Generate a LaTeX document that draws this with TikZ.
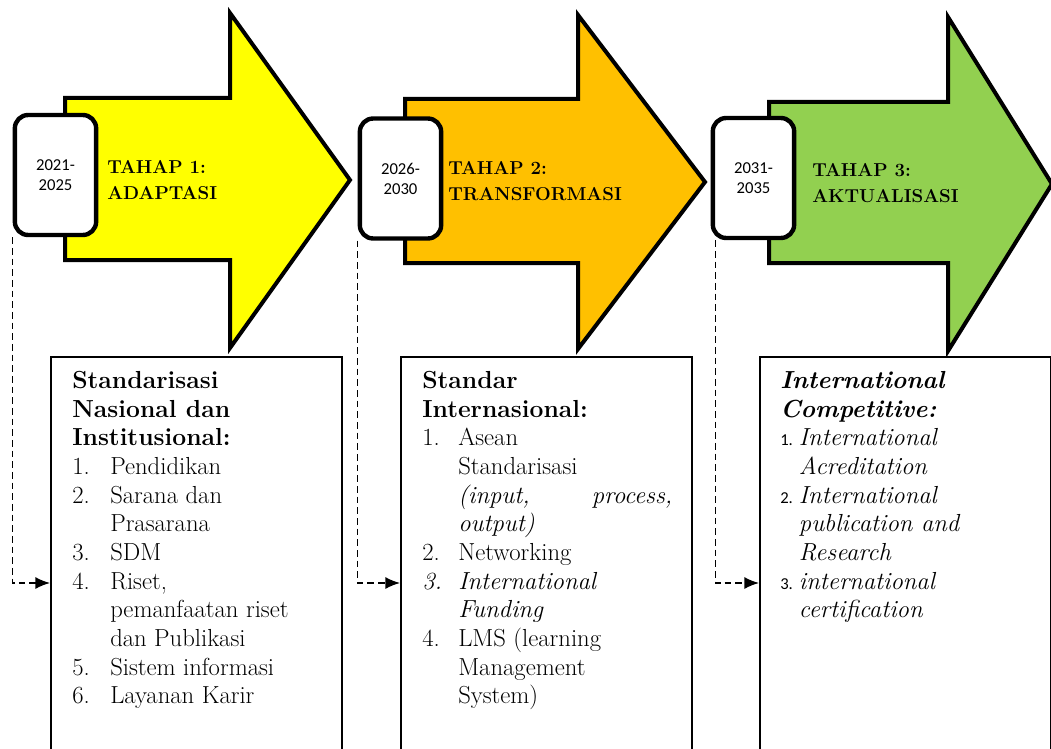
\documentclass[tikz,border=0pt]{standalone}
\usepackage{fontspec}
\newfontfamily\yearfont{Carlito}
\usetikzlibrary{arrows.meta}

\definecolor{tahapyellow}{HTML}{FFFF00}
\definecolor{tahaporange}{HTML}{FFC000}
\definecolor{tahapgreen}{HTML}{92D050}

\newcommand{\nomor}[1]{\makebox[28.5pt][l]{#1}}
\newcommand{\nomordua}[1]{\makebox[27pt][l]{#1}}
\newcommand{\nomortiga}[1]{\makebox[14pt][l]{\yearfont\fontsize{12.5}{14}\selectfont #1}}

\tikzset{
  tahaparrow/.style={draw=black, line width=3pt, line join=miter},
  yearbox/.style={draw=black, fill=white, line width=3.3pt, rounded corners=10pt,
    minimum width=61pt, minimum height=90pt, inner sep=0pt, align=center,
    font=\yearfont\fontsize{12.5}{15}\selectfont},
  isibox/.style={draw=black, line width=1.5pt, minimum width=218.25pt,
    minimum height=339pt, inner sep=0pt},
  tahaptext/.style={anchor=west, inner sep=0pt, align=left,
    font=\bfseries\fontsize{14}{19.5}\selectfont},
  isitext/.style={anchor=north west, inner sep=0pt, align=left,
    font=\fontsize{18.5}{21.5}\selectfont},
  link/.style={dash pattern=on 5pt off 3pt, line width=1.1pt, -{Latex[length=11pt,width=9pt]}}
}

\begin{document}
\begin{tikzpicture}[x=0.75pt,y=0.75pt,yscale=-1,xscale=1]
\useasboundingbox (0,0) rectangle (1051,749);
\clip (0,0) rectangle (1051,749);

%Shape: Right Arrow [id:tahap1]
\draw [tahaparrow, fill=tahapyellow] (65,98) -- (230,98) -- (230,13) -- (350,180) -- (230,348) -- (230,260) -- (65,260) -- cycle ;
%Shape: Right Arrow [id:tahap2]
\draw [tahaparrow, fill=tahaporange] (405,99) -- (578,99) -- (578,15) -- (705,182) -- (578,349) -- (578,263) -- (405,263) -- cycle ;
%Shape: Right Arrow [id:tahap3]
\draw [tahaparrow, fill=tahapgreen] (769,102) -- (948,102) -- (948,17) -- (1052,184) -- (948,351) -- (948,263) -- (769,263) -- cycle ;

%Shape: Rounded Rectangle [id:year1]
\node [yearbox] (year1) at (55.5,175) {2021-\\2025};
%Shape: Rounded Rectangle [id:year2]
\node [yearbox] (year2) at (400.5,178.5) {2026-\\2030};
%Shape: Rounded Rectangle [id:year3]
\node [yearbox] (year3) at (753.5,178) {2031-\\2035};

%Shape: Rectangle [id:box1]
\node [isibox] (box1) at (196.5,583) {};
%Shape: Rectangle [id:box2]
\node [isibox] (box2) at (546.5,583) {};
%Shape: Rectangle [id:box3]
\node [isibox] (box3) at (905.5,583) {};

%Straight Lines [id:link1]
\draw [link] (year1.south west) |- (box1.west) ;
%Straight Lines [id:link2]
\draw [link] (year2.south west) |- (box2.west) ;
%Straight Lines [id:link3]
\draw [link] ([xshift=3.5pt]year3.south west) |- (box3.west) ;

% Text Node
\node [tahaptext] (stage1) at (107,180) {TAHAP 1:\\ADAPTASI};
% Text Node
\node [tahaptext] (stage2) at (448,181) {TAHAP 2:\\TRANSFORMASI};
% Text Node
\node [tahaptext] (stage3) at (812,183) {TAHAP 3:\\AKTUALISASI};

% Text Node
\node [isitext] (list1) at (72,371) {\textbf{Standarisasi}\\
\textbf{Nasional dan}\\
\textbf{Institusional:}\\
\nomor{1.}Pendidikan\\
\nomor{2.}Sarana dan\\
\nomor{}Prasarana\\
\nomor{3.}SDM\\
\nomor{4.}Riset,\\
\nomor{}pemanfaatan riset\\
\nomor{}dan Publikasi\\
\nomor{5.}Sistem informasi\\
\nomor{6.}Layanan Karir};
% Text Node
\node [isitext] (list2) at (422,371) {\textbf{Standar}\\
\textbf{Internasional:}\\
\nomordua{1.}Asean\\
\nomordua{}Standarisasi\\
\nomordua{}\makebox[160.5pt]{\textit{(input,}\hfill\textit{process,}}\\
\nomordua{}\textit{output)}\\
\nomordua{2.}Networking\\
\nomordua{\textit{3.}}\textit{International}\\
\nomordua{}\textit{Funding}\\
\nomordua{4.}LMS (learning\\
\nomordua{}Management\\
\nomordua{}System)};
% Text Node
\node [isitext] (list3) at (780,371) {\textbf{\textit{International}}\\
\textbf{\textit{Competitive:}}\\
\nomortiga{1.}\textit{International}\\
\nomortiga{}\textit{Acreditation}\\
\nomortiga{2.}\textit{International}\\
\nomortiga{}\textit{publication and}\\
\nomortiga{}\textit{Research}\\
\nomortiga{3.}\textit{international}\\
\nomortiga{}\textit{certification}};

\end{tikzpicture}
\end{document}
